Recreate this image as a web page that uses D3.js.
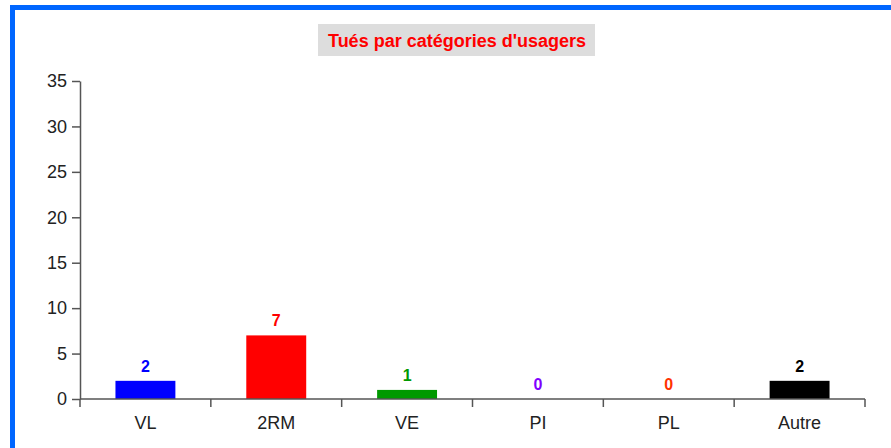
<!DOCTYPE html>
<html>
<head>
<meta charset="utf-8">
<title>Tués par catégories d'usagers</title>
<style>
	body{
		margin:0;
		background:#fff;
		font-family:"Liberation Sans", Arial, sans-serif;
	}
	#frame{
		position:absolute;
		left:10px;
		top:5px;
		width:900px;
		height:460px;
		border-left:5px solid #0066ff;
		border-top:5px solid #0066ff;
	}
</style>
</head>
<body>
<div id="frame"></div>
<svg id="chart" width="891" height="448" style="position:absolute;left:0;top:0"></svg>
<script src="https://d3js.org/d3.v7.min.js"></script>
<script type="text/javascript">

var categories = ['VL','2RM','VE','PI','PL','Autre'],
	values = [2,7,1,0,0,2],
	colors = ['#0000ff','#ff0000','#009900','#7f00ff','#ff3300','#000000'],
	yTicks = [0,5,10,15,20,25,30,35];

var svg = d3.select('#chart'),
	plotLeft = 80, plotRight = 865, plotTop = 81, plotBottom = 399;

var x = d3.scaleBand().domain(categories).range([plotLeft,plotRight]).paddingInner(0.542).paddingOuter(0.271),
	xb = d3.scaleBand().domain(categories).range([plotLeft,plotRight]),
	y = d3.scaleLinear().domain([0,35]).range([plotBottom,plotTop]);

// title
var title = svg.append('g');
title.append('rect').attr('x',318).attr('y',24).attr('width',277).attr('height',32).style('fill','#dddddd');
title.append('text').attr('x',457).attr('y',47).attr('text-anchor','middle')
	.style('fill','#ff0000').style('font-weight','bold').style('font-size','18px')
	.text("Tués par catégories d'usagers");

// bars
svg.selectAll('rect.bar').data(values).enter().append('rect')
	.attr('class','bar')
	.attr('x',function(d,i){ return x(categories[i]); })
	.attr('width',x.bandwidth())
	.attr('y',function(d){ return y(d); })
	.attr('height',function(d){ return plotBottom - y(d); })
	.style('fill',function(d,i){ return colors[i]; });

svg.selectAll('text.val').data(values).enter().append('text')
	.attr('class','val')
	.attr('x',function(d,i){ return x(categories[i]) + x.bandwidth()/2; })
	.attr('y',function(d){ return y(d) - 9; })
	.attr('text-anchor','middle')
	.style('font-weight','bold').style('font-size','16px')
	.style('fill',function(d,i){ return colors[i]; })
	.text(function(d){ return d; });

// y axis
var yAxis = svg.append('g').attr('transform','translate('+plotLeft+',0)')
	.call(d3.axisLeft(y).tickValues(yTicks).tickSize(8).tickSizeOuter(0));
yAxis.selectAll('text').style('font-size','18px').style('font-family','"Liberation Sans", Arial, sans-serif').style('fill','#222').attr('x',-13);

// x axis with ticks on category boundaries
var xAxis = svg.append('g').attr('transform','translate(0,'+plotBottom+')');
xAxis.append('line').attr('x1',plotLeft).attr('x2',plotRight).style('stroke','#555').style('stroke-width',1.5);
xAxis.selectAll('line.tk').data(categories.concat(['end'])).enter().append('line')
	.attr('class','tk')
	.attr('x1',function(d,i){ return i < categories.length ? xb(d) : plotRight; })
	.attr('x2',function(d,i){ return i < categories.length ? xb(d) : plotRight; })
	.attr('y1',0).attr('y2',8)
	.style('stroke','#555').style('stroke-width',1.5);
xAxis.selectAll('text').data(categories).enter().append('text')
	.attr('x',function(d){ return xb(d) + xb.bandwidth()/2; })
	.attr('y',30)
	.attr('text-anchor','middle')
	.style('font-size','18px').style('fill','#222')
	.text(function(d){ return d; });

svg.selectAll('.domain, .tick line').style('stroke','#555').style('stroke-width',1.5);
</script>
</body>
</html>
